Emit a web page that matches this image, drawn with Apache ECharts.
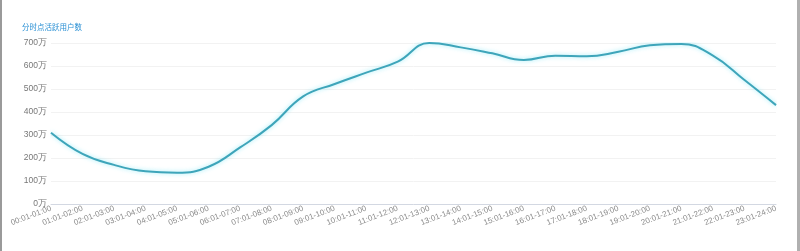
<!DOCTYPE html>
<html><head><meta charset="utf-8">
<script src="https://cdn.jsdelivr.net/npm/echarts@6/dist/echarts.min.js"></script>
<style>
html,body{margin:0;padding:0;background:#fff;}
#frame{position:absolute;left:0;top:0;width:800px;height:251px;box-sizing:border-box;border-left:2px solid #9a9a9a;border-right:3px solid #b0b0b0;}
#c{position:absolute;left:0;top:0;width:800px;height:251px;}
</style></head>
<body>
<div id="c"></div>
<div id="frame"></div>
<script>
const title = '分时点活跃用户数';
const categories = ['00:01-01:00','01:01-02:00','02:01-03:00','03:01-04:00','04:01-05:00','05:01-06:00','06:01-07:00','07:01-08:00','08:01-09:00','09:01-10:00','10:01-11:00','11:01-12:00','12:01-13:00','13:01-14:00','14:01-15:00','15:01-16:00','16:01-17:00','17:01-18:00','18:01-19:00','19:01-20:00','20:01-21:00','21:01-22:00','22:01-23:00','23:01-24:00'];
const activeUsers = [310, 218, 170, 142, 136, 162, 246, 343, 468, 522, 571, 619, 700, 681, 655, 626, 645, 642, 662, 690, 696, 645, 539, 430];
const yMin = 0, yMax = 700, yInterval = 100;

const chart = echarts.init(document.getElementById('c'), null, {renderer:'canvas'});
chart.setOption({
  animation:false,
  title:{text:title,left:22,top:23,padding:0,textStyle:{color:'#2a90d4',fontSize:7.5,fontWeight:'normal',fontFamily:'Noto Sans CJK SC'}},
  grid:{left:51,right:24,top:43,bottom:47,containLabel:false},
  xAxis:{type:'category',data:categories,boundaryGap:false,
    axisLine:{lineStyle:{color:'#d3d8e2',width:1}},axisTick:{show:false},
    axisLabel:{rotate:21,fontSize:8,color:'#8a8a8a',margin:4,interval:0,fontFamily:'Liberation Sans'},
    splitLine:{show:false}},
  yAxis:{type:'value',min:yMin,max:yMax,interval:yInterval,
    axisLine:{show:false},axisTick:{show:false},
    axisLabel:{formatter:v=>v+'万',fontSize:8.5,color:'#777',margin:4,fontFamily:'Liberation Sans'},
    splitLine:{lineStyle:{color:'#f2f2f2',width:1}}},
  series:[{type:'line',data:activeUsers,smooth:0.45,showSymbol:false,
    lineStyle:{color:'#3ea5ba',width:2,shadowColor:'rgba(90,225,245,0.6)',shadowBlur:4}}]
});
</script>
</body></html>
